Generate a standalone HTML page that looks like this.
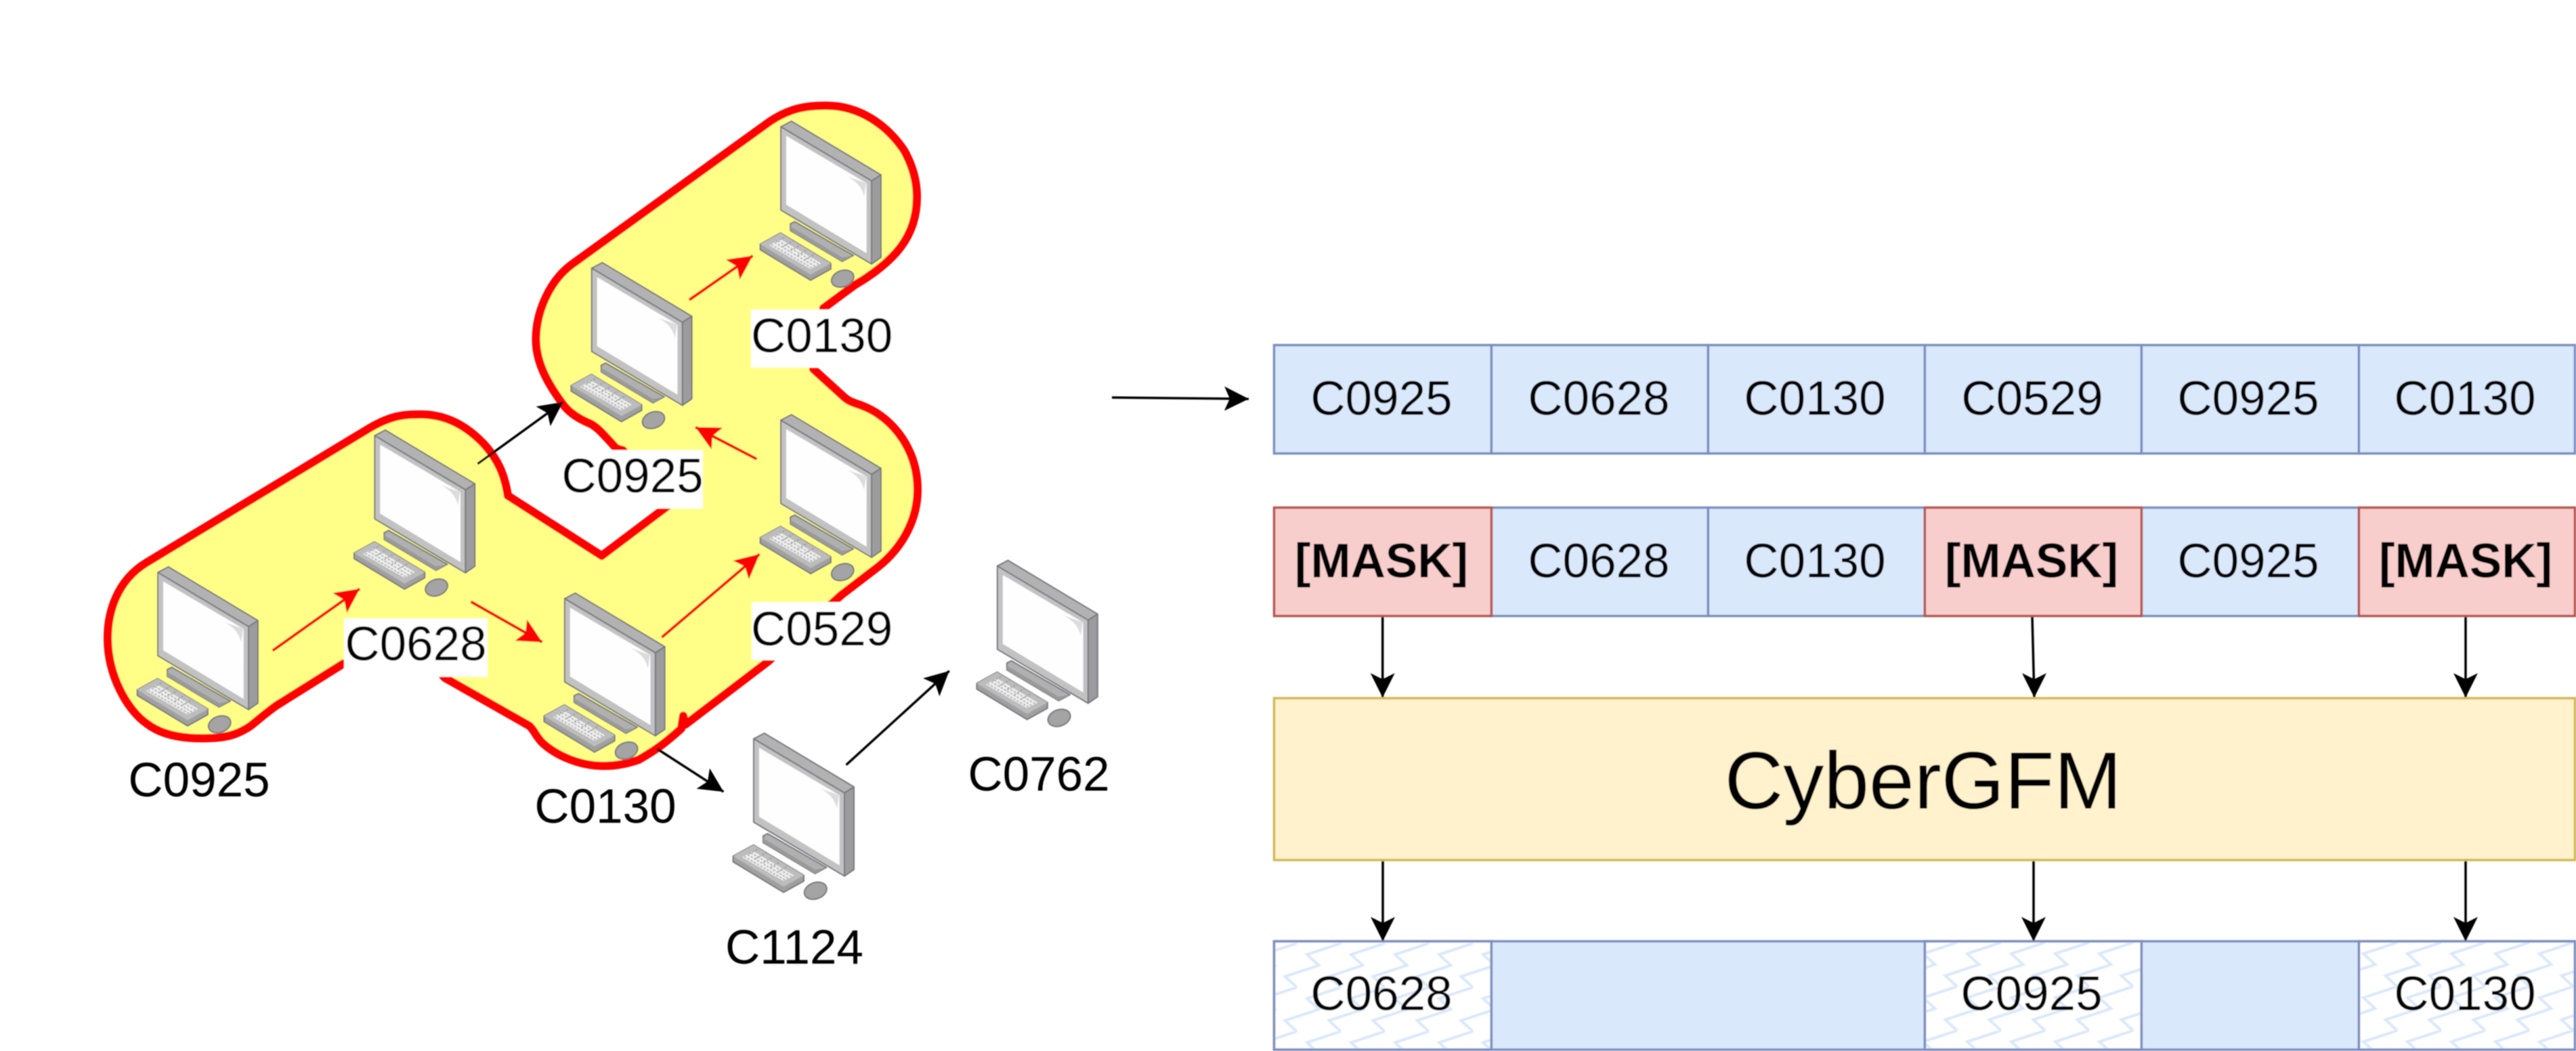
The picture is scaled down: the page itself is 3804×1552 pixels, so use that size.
<!DOCTYPE html>
<html><head><meta charset="utf-8"><style>
html,body{margin:0;padding:0;background:#fff;width:3804px;height:1552px;overflow:hidden}
svg{display:block}
text{font-family:"Liberation Sans",sans-serif;font-size:71px;fill:#000;text-anchor:middle}
</style></head><body>
<svg xmlns="http://www.w3.org/2000/svg" width="3804" height="1552" viewBox="0 0 3804 1552">
<defs>
<marker id="ak" orient="auto" markerUnits="userSpaceOnUse" markerWidth="38" markerHeight="38" refX="36" refY="18" viewBox="0 0 38 38"><path d="M0 0L36 18L0 36L8 18z" fill="#000"/></marker>
<marker id="ar" orient="auto" markerUnits="userSpaceOnUse" markerWidth="38" markerHeight="38" refX="36" refY="18" viewBox="0 0 38 38"><path d="M0 0L36 18L0 36L8 18z" fill="#f00"/></marker>
<pattern id="z1" patternUnits="userSpaceOnUse" width="65" height="65" x="1915" y="1393"><path d="M65 0L15 16.5L32.5 32.5L-17.5 49L0 65M97.5 32.5L47.5 49L65 65" fill="none" stroke="#dae8fc" stroke-width="4"/></pattern>
<pattern id="z2" patternUnits="userSpaceOnUse" width="65" height="65" x="2890" y="1391.8"><path d="M65 0L15 16.5L32.5 32.5L-17.5 49L0 65M97.5 32.5L47.5 49L65 65" fill="none" stroke="#dae8fc" stroke-width="4"/></pattern>
<pattern id="z3" patternUnits="userSpaceOnUse" width="65" height="65" x="3540" y="1391.8"><path d="M65 0L15 16.5L32.5 32.5L-17.5 49L0 65M97.5 32.5L47.5 49L65 65" fill="none" stroke="#dae8fc" stroke-width="4"/></pattern>
<filter id="b" filterUnits="userSpaceOnUse" x="0" y="0" width="3804" height="1552"><feGaussianBlur stdDeviation="0.7"/></filter>
<g id="pc" stroke-linejoin="round">
  <path d="M14 143.3L20.6 140L107.3 190L90.6 199L14 153.3z" fill="#b0b0b0" stroke="#77777f" stroke-width="2"/>
  <path d="M14 147L90.6 193L107.3 190L90.6 199L14 153.3z" fill="#9a9a9a"/>
  <path d="M0 0L15.7 -8.3L148 71L134 80z" fill="#b2b2b2" stroke="#77777f" stroke-width="2"/>
  <path d="M134 80L148 71L148 193L134 202.7z" fill="#9c9c9f" stroke="#77777f" stroke-width="2"/>
  <path d="M0 0L134 80L134 202.7L0 123z" fill="#c2c2c2" stroke="#77777f" stroke-width="2"/>
  <path d="M8 13.3L126.7 83.3L126.7 186.7L8 115z" fill="#fefefe"/>
  <path d="M97 73C112 80 120 90 123 103L126 83z" fill="#dcdcdc"/>
  <path d="M-30.4 173.3L-0.4 156.7L74 201.7L74 210L44 226.7L-30.4 181.7z" fill="#a0a0a0" stroke="#77777f" stroke-width="2"/>
  <path d="M-30.4 173.3L-0.4 156.7L74 201.7L44 218.3z" fill="#bcbcbc"/>
  <path d="M-17 175L-1 165.7L59.6 201.7L44 210z" fill="#ededed"/>
  <path d="M-14 174L47 209M-9 171L52 207M-4 168.5L57 204M-7 170L8 162M3 177L19 168M14 183L30 174M25 190L40 181M36 196L51 188" stroke="#8f8f8f" stroke-width="1.4" stroke-dasharray="3 2.5" fill="none"/>
  <ellipse cx="91.3" cy="224.3" rx="17" ry="12" transform="rotate(-20 91.3 224.3)" fill="#a4a4a4" stroke="#77777f" stroke-width="2"/>
</g>
</defs>
<rect width="3804" height="1552" fill="#fff"/>
<g filter="url(#b)">
<path d="M791.5 501C791.5 460 812 414 845 390L1136 180C1165 160 1190 156 1220 156C1270 156 1310 185 1335 222C1348 245 1354 268 1354 291C1354 320 1345 345 1330 365C1315 385 1290 405 1262 421L1216 455L1201 545L1245 585C1255 595 1265 595 1280 602C1320 620 1355 665 1355 723C1355 770 1330 810 1298 836L1242 879L1134 977L1012 1070L1009 1057L1006 1076C990 1090 975 1104 943 1122C925 1128 910 1131 891 1131C855 1131 820 1115 800 1096C790 1085 790 1080 782 1072L657 1001L620 960L507 980L408 1042C390 1055 385 1060 370 1072C355 1082 340 1089 310 1090C265 1092 235 1083 216 1068C190 1050 159 1000 159 942C159 905 172 858 216 831L546 632C580 612 600 612 622 612C660 612 690 630 714 655C735 678 745 700 750 732L888.6 820.7L985 748L920 665L910 662C890 640 880 628 868 624C850 616 838 607 830 595C808 565 791.5 535 791.5 501Z" fill="#ffff88" stroke="#ff0000" stroke-width="12" stroke-linejoin="round"/>
<use href="#pc" x="233" y="845.3"/>
<use href="#pc" x="553.3" y="643.3"/>
<use href="#pc" x="833.8" y="884"/>
<use href="#pc" x="873.7" y="396"/>
<use href="#pc" x="1153" y="187.2"/>
<use href="#pc" x="1153" y="620.5"/>
<use href="#pc" x="1472.8" y="835.8"/>
<use href="#pc" x="1113" y="1091"/>

<rect x="508" y="913" width="212" height="86.5" fill="#fff"/>
<rect x="828" y="664.5" width="210" height="86.5" fill="#fff"/>
<rect x="1109" y="457" width="209" height="86" fill="#fff"/>
<rect x="1110" y="889" width="208" height="86" fill="#fff"/>
<text x="294" y="1176">C0925</text>
<text x="614" y="975">C0628</text>
<text x="894" y="1215">C0130</text>
<text x="934" y="727">C0925</text>
<text x="1213.6" y="520">C0130</text>
<text x="1213.6" y="953">C0529</text>
<text x="1173" y="1423">C1124</text>
<text x="1534" y="1167.5">C0762</text>

<g stroke="#f00" stroke-width="4" fill="none">
<line x1="402.7" y1="960.7" x2="531.2" y2="869.5" marker-end="url(#ar)"/>
<line x1="695.4" y1="888.5" x2="800.7" y2="948.2" marker-end="url(#ar)"/>
<line x1="977.3" y1="941.1" x2="1121.6" y2="818.3" marker-end="url(#ar)"/>
<line x1="1117.4" y1="677.9" x2="1027" y2="630.9" marker-end="url(#ar)"/>
<line x1="1017.9" y1="442.8" x2="1111.6" y2="377.6" marker-end="url(#ar)"/>
</g>
<g stroke="#000" stroke-width="3.5" fill="none">
<line x1="705.3" y1="685" x2="831.3" y2="593.7" marker-end="url(#ak)"/>
<line x1="970.7" y1="1106" x2="1068.5" y2="1169.2" marker-end="url(#ak)"/>
<line x1="1249.6" y1="1129.5" x2="1401.8" y2="990.7" marker-end="url(#ak)"/>
<line x1="1642" y1="587" x2="1844" y2="589" marker-end="url(#ak)"/>
<line x1="2041.7" y1="910" x2="2041.7" y2="1030"/>
<line x1="3001" y1="910" x2="3004" y2="1030"/>
<line x1="3641" y1="910" x2="3641" y2="1030"/>
<line x1="2042" y1="1270" x2="2042" y2="1390"/>
<line x1="3003" y1="1270" x2="3003" y2="1390"/>
<line x1="3641" y1="1270" x2="3641" y2="1390"/>
</g>

<g stroke="#7a8fbf" stroke-width="3.5" fill="#dae8fc">
<rect x="1881.5" y="509.6" width="320.9" height="160"/>
<rect x="2202.4" y="509.6" width="320" height="160"/>
<rect x="2522.4" y="509.6" width="320" height="160"/>
<rect x="2842.4" y="509.6" width="320" height="160"/>
<rect x="3162.4" y="509.6" width="321" height="160"/>
<rect x="3483.4" y="509.6" width="319" height="160"/>
<rect x="2202.4" y="749.6" width="320" height="160"/>
<rect x="2522.4" y="749.6" width="320" height="160"/>
<rect x="3162.4" y="749.6" width="321" height="160"/>
</g>
<g stroke="#b85450" stroke-width="3.5" fill="#f8cecc">
<rect x="1881.5" y="749.6" width="320.9" height="160"/>
<rect x="2842.4" y="749.6" width="320" height="160"/>
<rect x="3483.4" y="749.6" width="319" height="160"/>
</g>
<rect x="1881.5" y="1031" width="1921" height="239" fill="#fff2cc" stroke="#d6b656" stroke-width="3.5"/>
<g stroke="#7f8fc0" stroke-width="3.5">
<rect x="1881.5" y="1390" width="320.9" height="160" fill="#fff"/>
<rect x="1881.5" y="1390" width="320.9" height="160" fill="url(#z1)"/>
<rect x="2202.4" y="1390" width="640" height="160" fill="#dae8fc"/>
<rect x="2842.4" y="1390" width="320" height="160" fill="#fff"/>
<rect x="2842.4" y="1390" width="320" height="160" fill="url(#z2)"/>
<rect x="3162.4" y="1390" width="321" height="160" fill="#dae8fc"/>
<rect x="3483.4" y="1390" width="319" height="160" fill="#fff"/>
<rect x="3483.4" y="1390" width="319" height="160" fill="url(#z3)"/>
</g>

<path d="M2023.7 994L2041.7 1030L2059.7 994L2041.7 1003z" fill="#000"/>
<path d="M2986 994L3004 1030L3022 994L3004 1003z" fill="#000"/>
<path d="M3623 994L3641 1030L3659 994L3641 1003z" fill="#000"/>
<path d="M2024 1354L2042 1390L2060 1354L2042 1363z" fill="#000"/>
<path d="M2985 1354L3003 1390L3021 1354L3003 1363z" fill="#000"/>
<path d="M3623 1354L3641 1390L3659 1354L3641 1363z" fill="#000"/>

<text x="2040" y="612.5">C0925</text>
<text x="2361" y="612.5">C0628</text>
<text x="2680" y="612.5">C0130</text>
<text x="3001" y="612.5">C0529</text>
<text x="3320" y="612.5">C0925</text>
<text x="3640" y="612.5">C0130</text>
<text x="2040" y="852.5" font-weight="bold">[MASK]</text>
<text x="2361" y="852.5">C0628</text>
<text x="2680" y="852.5">C0130</text>
<text x="3000" y="852.5" font-weight="bold">[MASK]</text>
<text x="3320" y="852.5">C0925</text>
<text x="3641" y="852.5" font-weight="bold">[MASK]</text>
<text x="2840" y="1194" style="font-size:120px">CyberGFM</text>
<text x="2040" y="1491.7">C0628</text>
<text x="3000" y="1491.7">C0925</text>
<text x="3640" y="1491.7">C0130</text>
</g>
</svg>
</body></html>
